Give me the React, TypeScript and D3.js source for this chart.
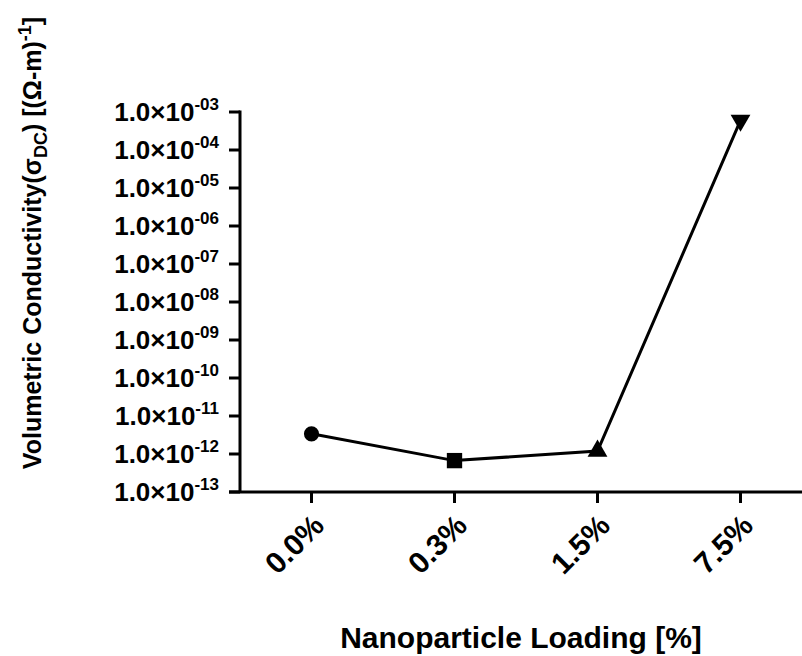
import React from "react";
import * as d3 from "d3";

const categories = ["0.0%", "0.3%", "1.5%", "7.5%"];
const values = [3.4e-12, 6.7e-13, 1.2e-12, 6.0e-4];
const markerTypes = ["circle", "square", "triangle", "triangleDown"];
const tickExponents = ["-03", "-04", "-05", "-06", "-07", "-08", "-09", "-10", "-11", "-12", "-13"];
const tickValues = [1e-3, 1e-4, 1e-5, 1e-6, 1e-7, 1e-8, 1e-9, 1e-10, 1e-11, 1e-12, 1e-13];

const W = 802;
const H = 656;
const FONT = "'Liberation Sans', Arial, sans-serif";

export default function App() {
  const y = d3.scaleLog().domain([1e-13, 1e-3]).range([492, 112]);
  const x = d3.scalePoint<string>().domain(categories).range([240, 812]).padding(0.5);
  const axisX = 240;
  const axisY = 492;

  const line = d3
    .line<number>()
    .x((_, i) => x(categories[i]) as number)
    .y((d) => y(d));

  const symFor = (t: string) => {
    if (t === "circle") return d3.symbol().type(d3.symbolCircle).size(180)();
    if (t === "square") return d3.symbol().type(d3.symbolSquare).size(235)();
    return d3.symbol().type(d3.symbolTriangle).size(170)();
  };

  return (
    <svg width={W} height={H} style={{ display: "block", position: "absolute", left: 0, top: 0 }} fontFamily={FONT}>
      <rect width={W} height={H} fill="#fff" />
      {/* y axis */}
      <line x1={axisX} x2={axisX} y1={y(1e-3) - 1.5} y2={axisY} stroke="#000" strokeWidth={3} />
      {tickValues.map((v, i) => (
        <g key={i}>
          <line x1={axisX - 11} x2={axisX} y1={y(v)} y2={y(v)} stroke="#000" strokeWidth={3} />
          <text x={219} y={y(v) + 9} textAnchor="end" fontWeight="bold" fontSize={26} fill="#000">
            1.0×10
            <tspan fontSize={17} dy={-11}>{tickExponents[i]}</tspan>
          </text>
        </g>
      ))}
      {/* x axis */}
      <line x1={axisX - 11} x2={W} y1={axisY} y2={axisY} stroke="#000" strokeWidth={3} />
      {categories.map((c) => (
        <g key={c}>
          <line x1={x(c)} x2={x(c)} y1={axisY} y2={axisY + 11} stroke="#000" strokeWidth={3} />
          <text
            transform={`translate(${(x(c) as number) + 7},${axisY + 28}) rotate(-45)`}
            textAnchor="end"
            fontWeight="bold"
            fontSize={30}
            dy="0.35em"
            fill="#000"
          >
            {c}
          </text>
        </g>
      ))}
      {/* line */}
      <path d={line(values) || ""} fill="none" stroke="#000" strokeWidth={3} />
      {values.map((v, i) => (
        <path
          key={i}
          d={symFor(markerTypes[i]) || ""}
          transform={`translate(${x(categories[i])},${y(v)})${markerTypes[i] === "triangleDown" ? " rotate(180)" : ""}`}
          fill="#000"
        />
      ))}
      {/* axis titles */}
      <text x={521} y={648} textAnchor="middle" fontWeight="bold" fontSize={30} fill="#000">
        Nanoparticle Loading [%]
      </text>
      <text transform="translate(41,243) rotate(-90)" textAnchor="middle" fontWeight="bold" fontSize={25} fill="#000">
        Volumetric Conductivity(σ
        <tspan fontSize={18} dy={6}>DC</tspan>
        <tspan dy={-6}>) [(Ω-m)</tspan>
        <tspan fontSize={18} dy={-10}>-1</tspan>
        <tspan dy={10}>]</tspan>
      </text>
    </svg>
  );
}
